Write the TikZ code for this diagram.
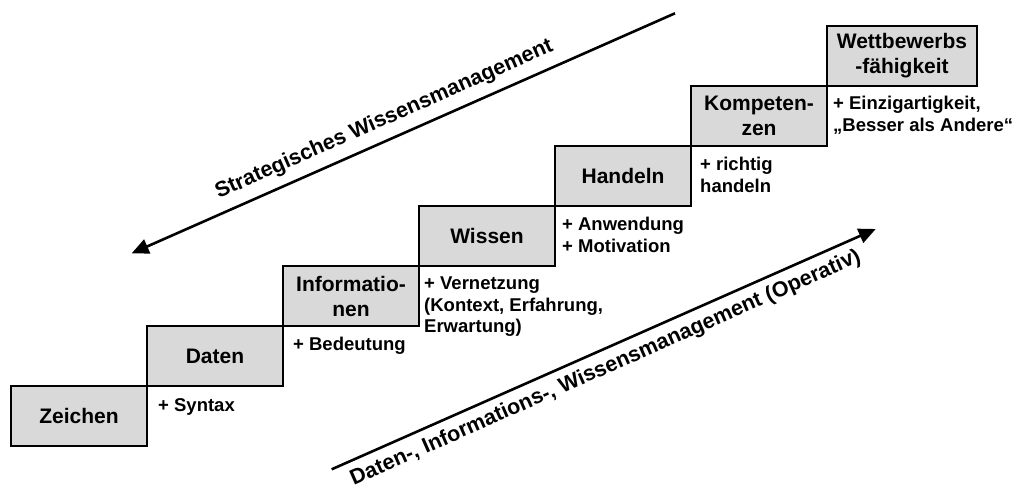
\documentclass[tikz,border=0pt]{standalone}
\usepackage{fontspec}
\setmainfont{Liberation Sans}
\usepackage{tikz}
\usetikzlibrary{arrows.meta,positioning}
\definecolor{stufengrau}{HTML}{D9D9D9}

\begin{document}
\begin{tikzpicture}[x=1pt,y=-1pt,
  stufe/.style={rectangle,draw=black,fill=stufengrau,line width=2.6pt,minimum width=136pt,minimum height=60pt,inner sep=0pt,outer sep=0pt,align=center,font=\fontsize{21}{25}\selectfont\bfseries},
  zusatz/.style={inner sep=0pt,align=left,font=\fontsize{18.5}{21.5}\selectfont\bfseries},
  ebene/.style={inner sep=0pt,font=\fontsize{21.5}{25}\selectfont\bfseries},
  pfeil/.style={-{Triangle[length=17pt,width=15pt]},line width=2.6pt}
]
\useasboundingbox (0,0) rectangle (1016,492);
% Treppe
\node[stufe,anchor=south west] (zeichen) at (11,446) {Zeichen};
\node[stufe,above right=0pt and 0pt of zeichen.north east] (daten) {Daten};
\node[stufe,above right=0pt and 0pt of daten.north east] (info) {Informatio-\\nen};
\node[stufe,above right=0pt and 0pt of info.north east] (wissen) {Wissen};
\node[stufe,above right=0pt and 0pt of wissen.north east] (handeln) {Handeln};
\node[stufe,above right=0pt and 0pt of handeln.north east] (kompetenz) {Kompeten-\\zen};
\node[stufe,minimum width=150pt,above right=0pt and 0pt of kompetenz.north east] (wettbewerb) {Wettbewerbs\\-fähigkeit};
% Zusaetze
\node[zusatz,below right=12pt and 11pt of zeichen.north east] (syntax) {+ Syntax};
\node[zusatz,below right=11pt and 10pt of daten.north east] (bedeutung) {+ Bedeutung};
\node[zusatz,below right=11pt and 5pt of info.north east] (vernetzung) {+ Vernetzung\\(Kontext, Erfahrung,\\Erwartung)};
\node[zusatz,below right=11pt and 7pt of wissen.north east] (anwendung) {+ Anwendung\\+ Motivation};
\node[zusatz,below right=11pt and 9pt of handeln.north east] (richtig) {+ richtig\\handeln};
\node[zusatz,below right=10pt and 6pt of kompetenz.north east] (einzig) {+ Einzigartigkeit,\\„Besser als Andere“};
% Ebenen
\coordinate (strat-start) at (675,13.3);
\coordinate (strat-end) at (131.7,253.3);
\coordinate (oper-start) at (331.7,469.3);
\coordinate (oper-end) at (875.7,229);
\draw[pfeil] (strat-start) -- node[ebene,sloped,above=8.8pt,pos=0.52] (strat) {Strategisches Wissensmanagement} (strat-end);
\draw[pfeil] (oper-start) -- node[ebene,sloped,below=7pt,pos=0.49] (oper) {Daten-, Informations-, Wissensmanagement (Operativ)} (oper-end);
\end{tikzpicture}
\end{document}
